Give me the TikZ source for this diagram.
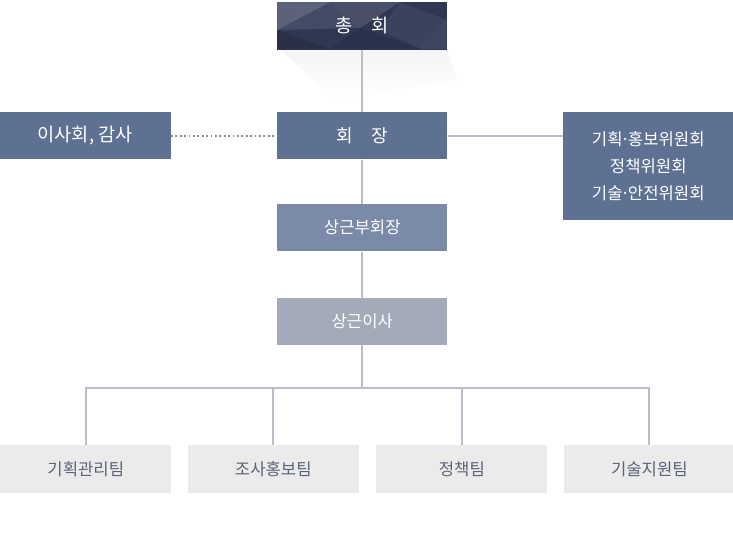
\documentclass[tikz,border=0pt]{standalone}
\usepackage{fontspec}
\newfontfamily\kr{Noto Sans CJK KR}
\usepackage{tikz}
\usetikzlibrary{positioning}
\definecolor{topnavy}{HTML}{2F3753}
\definecolor{mainblue}{HTML}{5F7192}
\definecolor{viceblue}{HTML}{7A8AA8}
\definecolor{dirgray}{HTML}{A3ABBA}
\definecolor{teamgray}{HTML}{EBEBEB}
\definecolor{teamtext}{HTML}{5A6478}
\definecolor{linegray}{HTML}{BCBCCC}
\newcommand{\mdot}{\kern-0.12em·\kern-0.12em}

\begin{document}
\begin{tikzpicture}[x=0.75pt, y=-0.75pt,
        every node/.style={font=\kr\fontsize{12.5pt}{20.6pt}\selectfont},
        orgbox/.style={rectangle, minimum width=127.5pt, minimum height=35.5pt, inner sep=0pt, align=center, text=white, fill=#1},
        teambox/.style={rectangle, minimum width=128.25pt, minimum height=36pt, inner sep=0pt, fill=teamgray, text=teamtext, font=\kr\fontsize{12.5pt}{14pt}\selectfont},
        link/.style={draw=linegray, line width=1.5pt}
    ]
    \useasboundingbox (0,0) rectangle (733,560);
%
    % faint shadow under the general assembly box
    \shade[top color=black!4, bottom color=white] (280,49) -- (447,49) -- (458,80) -- (335,100) -- cycle;
%
    \node[orgbox=topnavy, anchor=north west] (chonghoe) at (277,2) {};
    \begin{scope}
        \clip (chonghoe.north west) rectangle (chonghoe.south east);
        \fill[white, opacity=0.22] (277,2) -- (330,2) -- (277,30) -- cycle;
        \fill[white, opacity=0.10] (277,30) -- (330,2) -- (360,28) -- cycle;
        \fill[white, opacity=0.12] (330,2) -- (400,2) -- (360,28) -- cycle;
        \fill[black, opacity=0.12] (277,49) -- (277,30) -- (330,49) -- cycle;
        \fill[white, opacity=0.06] (400,2) -- (447,20) -- (420,49) -- (380,30) -- cycle;
        \fill[black, opacity=0.10] (360,28) -- (420,49) -- (330,49) -- cycle;
        \fill[white, opacity=0.08] (447,20) -- (447,49) -- (420,49) -- cycle;
    \end{scope}
    \node[orgbox=topnavy, fill=none, font=\kr\fontsize{14pt}{16pt}\selectfont] at (chonghoe) {총\hspace{1em}회};
%
    \node[orgbox=mainblue, below=46.5pt of chonghoe, font=\kr\fontsize{13.5pt}{16pt}\selectfont] (hoejang) {회\hspace{1em}장};
    \node[orgbox=mainblue, minimum width=128.25pt, left=79.5pt of hoejang, font=\kr\fontsize{14pt}{16pt}\selectfont] (isa) {이사회, 감사};
    \node[orgbox=mainblue, minimum width=128.25pt, minimum height=81pt, anchor=north west] (wiwon) at ([xshift=86.25pt]hoejang.north east) {기획\mdot 홍보위원회\\정책위원회\\기술\mdot 안전위원회};
    \node[orgbox=viceblue, below=33pt of hoejang] (bu) {상근부회장};
    \node[orgbox=dirgray, below=34.5pt of bu] (sanggeun) {상근이사};
%
    \node[teambox, anchor=north west] (team1) at (0,445) {기획관리팀};
    \node[teambox, right=12pt of team1] (team2) {조사홍보팀};
    \node[teambox, right=12.75pt of team2] (team3) {정책팀};
    \node[teambox, right=12pt of team3] (team4) {기술지원팀};
%
    \coordinate[below=32.25pt of sanggeun] (bus);
    \draw[link] (chonghoe) -- (hoejang);
    \draw[link] (hoejang) -- (bu);
    \draw[link] (bu) -- (sanggeun);
    \draw[link] (sanggeun) -- (bus);
    \draw[link] (hoejang.east) -- (hoejang.east -| wiwon.west);
    \draw[draw=black!45, line width=1.3pt, dotted] (isa) -- (hoejang);
    \foreach \t in {team1, team2, team3, team4}
        \draw[link] (\t.north) |- (bus);
%
\end{tikzpicture}
\end{document}
